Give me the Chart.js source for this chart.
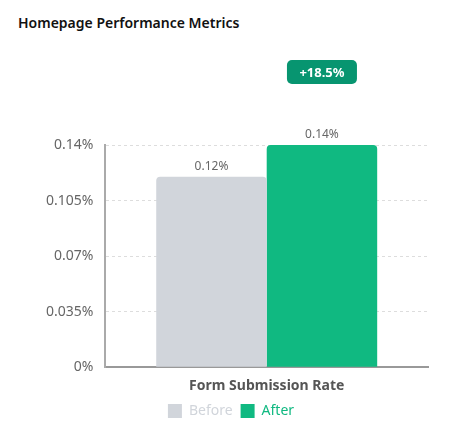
<!DOCTYPE html>
<html>
<head>
<meta charset="utf-8">
<script src="https://cdn.jsdelivr.net/npm/chart.js@4"></script>
<style>
  body { margin: 0; background: #fff; font-family: "Noto Sans", sans-serif; }
  .card { width: 464px; height: 442px; position: relative; }
  .title { position: absolute; left: 18px; top: 13px; font-size: 14px; font-weight: 600; color: #111; }
  .wrap { position: absolute; left: 0; top: 40px; width: 464px; height: 402px; }
</style>
</head>
<body>
<div class="card">
  <div class="title">Homepage Performance Metrics</div>
  <div class="wrap"><canvas id="chart"></canvas></div>
</div>
<script>
const categories = ['Form Submission Rate'];
const beforeValues = [0.12];
const afterValues = [0.14];
const yTicks = [0, 0.035, 0.07, 0.105, 0.14];
const changeLabel = '+18.5%';

// value labels above each bar
const valueLabels = {
  id: 'valueLabels',
  afterDatasetsDraw(chart) {
    const ctx = chart.ctx;
    ctx.save();
    ctx.font = '12px "Noto Sans"';
    ctx.fillStyle = '#666';
    ctx.textAlign = 'center';
    ctx.textBaseline = 'bottom';
    chart.data.datasets.forEach((ds, i) => {
      chart.getDatasetMeta(i).data.forEach((bar, j) => {
        ctx.fillText(ds.data[j].toFixed(2) + '%', bar.x, bar.y - 4);
      });
    });
    ctx.restore();
  }
};

// change badge over the "after" bar
const changeBadge = {
  id: 'changeBadge',
  afterDraw(chart) {
    const ctx = chart.ctx;
    const bar = chart.getDatasetMeta(1).data[0];
    const w = 70, h = 24;
    const x = bar.x - w / 2, y = chart.chartArea.top - 85;
    ctx.save();
    ctx.fillStyle = '#079570';
    ctx.beginPath();
    ctx.roundRect(x, y, w, h, 5);
    ctx.fill();
    ctx.fillStyle = '#fff';
    ctx.font = 'bold 13px "Noto Sans"';
    ctx.textAlign = 'center';
    ctx.textBaseline = 'middle';
    ctx.fillText(changeLabel, bar.x, y + h / 2 + 1);
    ctx.restore();
  }
};

new Chart(document.getElementById('chart'), {
  type: 'bar',
  data: {
    labels: categories,
    datasets: [
      { label: 'Before', data: beforeValues, backgroundColor: '#d1d5db', borderRadius: 4, borderSkipped: 'start' },
      { label: 'After', data: afterValues, backgroundColor: '#10b981', borderRadius: 4, borderSkipped: 'start' }
    ]
  },
  options: {
    responsive: true,
    maintainAspectRatio: false,
    animation: false,
    layout: { padding: { top: 105, right: 36, left: 34, bottom: 14 } },
    datasets: { bar: { barPercentage: 1, categoryPercentage: 0.685 } },
    scales: {
      x: {
        grid: { display: false },
        border: { color: '#999', width: 2 },
        ticks: { color: '#555', padding: 2, font: { family: 'Noto Sans', size: 14, weight: 'bold' } }
      },
      y: {
        min: 0,
        max: 0.14,
        afterBuildTicks: axis => { axis.ticks = yTicks.map(v => ({ value: v })); },
        grid: { color: '#ddd', drawTicks: false },
        border: { color: '#aaa', width: 2, dash: [3, 3] },
        ticks: {
          color: '#666',
          padding: 12,
          font: { family: 'Noto Sans', size: 14 },
          callback: v => v + '%'
        }
      }
    },
    plugins: {
      title: { display: false },
      tooltip: { enabled: false },
      legend: {
        position: 'bottom',
        labels: {
          boxWidth: 14,
          boxHeight: 14,
          padding: 8,
          font: { family: 'Noto Sans', size: 14 },
          generateLabels: chart => chart.data.datasets.map((ds, i) => ({
            text: ds.label,
            fillStyle: ds.backgroundColor,
            strokeStyle: ds.backgroundColor,
            lineWidth: 0,
            fontColor: ds.backgroundColor,
            datasetIndex: i,
            hidden: false
          }))
        }
      }
    }
  },
  plugins: [valueLabels, changeBadge]
});
</script>
</body>
</html>
